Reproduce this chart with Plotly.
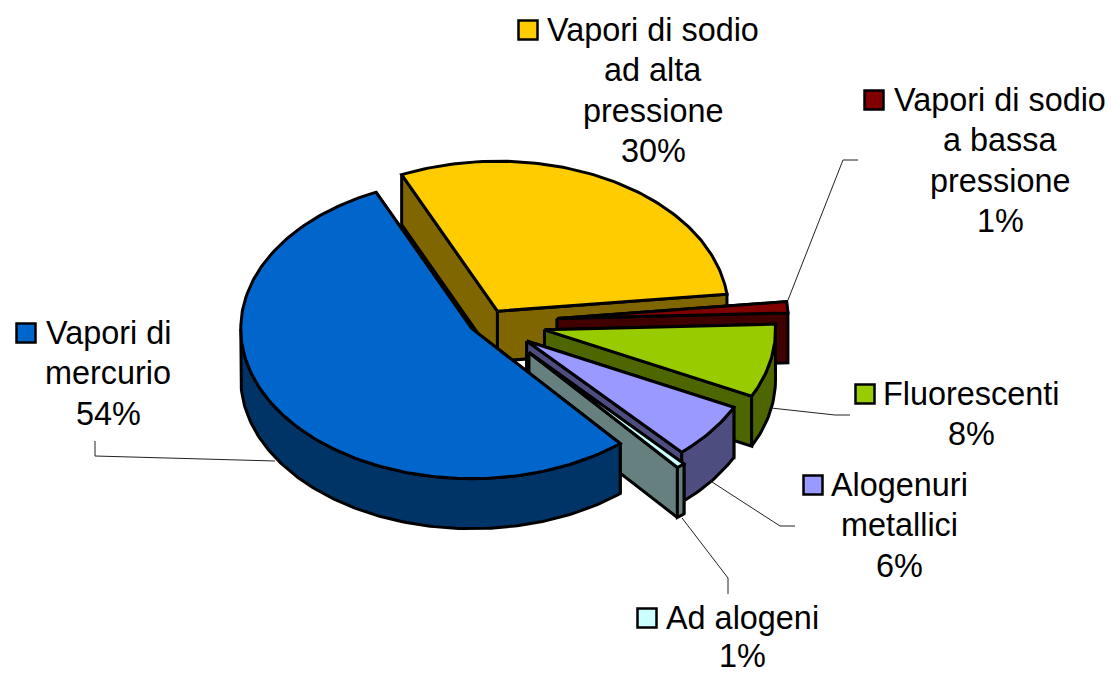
import math
import plotly.graph_objects as go

# Data (clockwise from the yellow slice)
categories = ["Vapori di sodio ad alta pressione", "Vapori di sodio a bassa pressione",
              "Fluorescenti", "Alogenuri metallici", "Ad alogeni", "Vapori di mercurio"]
values = [30.0, 1.2, 7.9, 6.0, 0.6, 54.3]

# Label lines for each category (the percentage line is added from values)
label_lines = [["Vapori di sodio", "ad alta", "pressione"],
               ["Vapori di sodio", "a bassa", "pressione"],
               ["Fluorescenti"],
               ["Alogenuri", "metallici"],
               ["Ad alogeni"],
               ["Vapori di", "mercurio"]]

# Style
top_colors = ["#FFCC00", "#800000", "#99CC00", "#9999FF", "#CCFFFF", "#0066CC"]
wall_colors = ["#806600", "#400000", "#4D6600", "#4D4D80", "#668080", "#003366"]
explode = [0.083, 0.30, 0.25, 0.21, 0.27, 0.083]

# Pie projection
CX, CY = 488, 322
RX, RY = 231, 150
DEPTH = 50
START = 114.5
LW = 3
FONT = "Liberation Sans, Arial, sans-serif"
FS = 32.4
LINE_H = [40.3, 40.3, 40.3, 40.3, 38, 40.3]

# Label layout: centre x, first line y, key x
label_pos = [(653, 30, 528), (1000, 100, 874), (971, 394, 865),
             (899, 485, 813), (742, 618, 647), (108, 333, 26)]
leaders = [None,
           ([788, 843, 858], [300, 160, 160]),
           ([771, 835, 850], [408, 415, 415]),
           ([712, 780, 795], [482, 526, 526]),
           ([682, 728, 728], [518, 578, 594]),
           ([275, 95, 95], [461, 456, 441])]

fig = go.Figure()


def poly(xs, ys, fill):
    fig.add_trace(go.Scatter(
        x=list(xs) + [xs[0]], y=list(ys) + [ys[0]], mode="lines", fill="toself",
        fillcolor=fill, line=dict(color="#000000", width=LW), hoverinfo="skip", showlegend=False))


total = sum(values)
angle = START
for i, v in enumerate(values):
    sweep = v / total * 360
    t0, t1 = angle, angle - sweep
    angle = t1
    mid = math.radians((t0 + t1) / 2)
    ax = CX + explode[i] * RX * math.cos(mid)
    ay = CY - explode[i] * RY * math.sin(mid)

    def pt(t):
        r = math.radians(t)
        return ax + RX * math.cos(r), ay - RY * math.sin(r)

    n = max(4, int(sweep))
    ts = [t0 + (t1 - t0) * k / n for k in range(n + 1)]
    arc = [pt(t) for t in ts]

    # cut faces
    for t in (t0, t1):
        p = pt(t)
        poly([ax, p[0], p[0], ax], [ay, p[1], p[1] + DEPTH, ay + DEPTH], wall_colors[i])

    # outer wall: only the front part of the rim
    lo, hi = max(t1, -180), min(t0, 0)
    if hi > lo:
        m = max(3, int(hi - lo))
        front = [pt(hi + (lo - hi) * k / m) for k in range(m + 1)]
        xs = [p[0] for p in front] + [p[0] for p in reversed(front)]
        ys = [p[1] for p in front] + [p[1] + DEPTH for p in reversed(front)]
        poly(xs, ys, wall_colors[i])

    # top face
    poly([ax] + [p[0] for p in arc], [ay] + [p[1] for p in arc], top_colors[i])

annotations = []
for i, lines in enumerate(label_lines):
    cx, y0, kx = label_pos[i]
    all_lines = lines + [f"{round(values[i])}%"]
    for j, s in enumerate(all_lines):
        annotations.append(dict(x=cx, y=y0 + j * LINE_H[i], text=s, showarrow=False, xref="x", yref="y",
                                xanchor="center", yanchor="middle",
                                font=dict(family=FONT, size=FS, color="#000000")))
    fig.add_trace(go.Scatter(
        x=[kx], y=[y0], mode="markers", hoverinfo="skip", showlegend=False,
        marker=dict(symbol="square", size=19, color=top_colors[i], line=dict(color="#000000", width=2.5))))
    if leaders[i]:
        fig.add_trace(go.Scatter(x=leaders[i][0], y=leaders[i][1], mode="lines", hoverinfo="skip",
                                 showlegend=False, line=dict(color="#222222", width=1)))

# The page keeps an 8 px body margin, so the plot area starts at (8, 8)
fig.update_layout(
    width=1105, height=667, margin=dict(l=0, r=0, t=0, b=0),
    paper_bgcolor="#FFFFFF", plot_bgcolor="#FFFFFF",
    xaxis=dict(range=[8, 1113], visible=False, fixedrange=True),
    yaxis=dict(range=[675, 8], visible=False, fixedrange=True),
    annotations=annotations,
)
fig.write_html("out.html", config={"displayModeBar": False})
